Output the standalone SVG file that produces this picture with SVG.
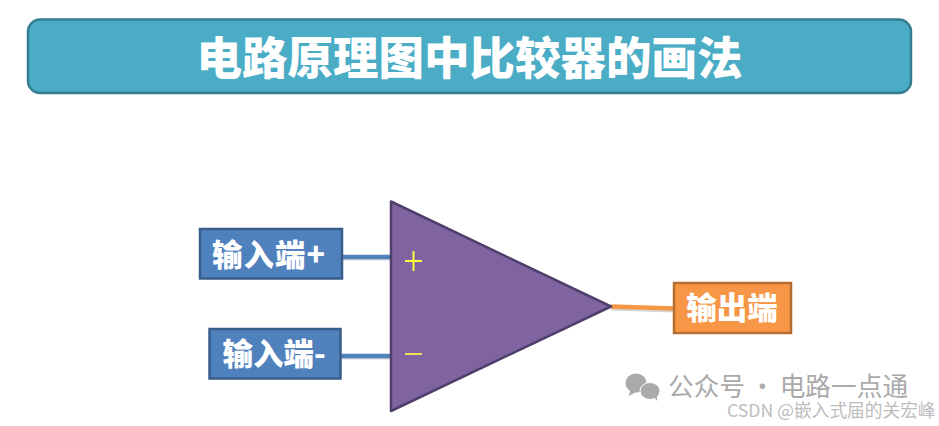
<svg xmlns="http://www.w3.org/2000/svg" width="939" height="426" viewBox="0 0 939 426">
<defs>
<style>
text{font-family:"Noto Sans CJK SC","Liberation Sans",sans-serif}
.b{font-weight:900;fill:#fff;text-anchor:middle}
.lb{font-size:30.500px}
.blue{fill:#4f81bd;stroke:#385d8a;stroke-width:2.5}
.w{fill:#aaa}
</style>
</defs>
<rect width="939" height="426" fill="#fff"/>
<g id="title"><rect x="28" y="19.500" width="883" height="73.500" rx="12" fill="#4bacc6" stroke="#357d91" stroke-width="2.500"/>
<text class="b" x="469.500" y="75" font-size="45.500">电路原理图中比较器的画法</text></g>
<g id="connectors" fill="none">
<path d="M342 259.500H391M341 358.500H391M611 309.500L674 311.500" stroke="#d4d4d4" stroke-width="2"/>
<path d="M342 257H391" stroke="#4f81bd" stroke-width="4.500"/>
<path d="M341 356H391" stroke="#4f81bd" stroke-width="4.500"/>
<path d="M611 306.500L674 308.500" stroke="#f79646" stroke-width="4.500"/>
</g>
<g id="comparator"><path d="M391 201.500V411L611 306.500Z" fill="#8064a2" stroke="#4f3f6b" stroke-width="2.500" stroke-linejoin="round"/>
<path d="M405 261H422M413.500 251V271" stroke="#ffff40" stroke-width="2" fill="none"/>
<path d="M405 354H422" stroke="#f2e05a" stroke-width="2" fill="none"/></g>
<g id="input-plus"><rect class="blue" x="200" y="229" width="142" height="49.500"/>
<text class="b lb" x="269" y="266" letter-spacing="1">输入端+</text></g>
<g id="input-minus"><rect class="blue" x="209.500" y="329" width="131" height="49.500"/>
<text class="b lb" x="274" y="365">输入端-</text></g>
<g id="output"><rect x="674" y="283" width="117" height="50" fill="#f79646" stroke="#b66d31" stroke-width="2.500"/>
<text class="b lb" x="732" y="319">输出端</text></g>
<g id="watermark">
<ellipse cx="636" cy="383" rx="10.500" ry="9.500" class="w"/>
<path d="M630 390L629 396L636 392Z" class="w"/>
<ellipse cx="650" cy="391" rx="10" ry="8.500" class="w" stroke="#fff" stroke-width="1"/>
<path d="M654 397L657 401L657 396Z" class="w"/>
<text x="668" y="396" font-size="25.700" fill="#aaa" word-spacing="-1.300">公众号 · 电路一点通</text>
<text x="727" y="417" font-size="17.700" fill="#bdbdbd">CSDN @嵌入式届的关宏峰</text>
</g>
</svg>
